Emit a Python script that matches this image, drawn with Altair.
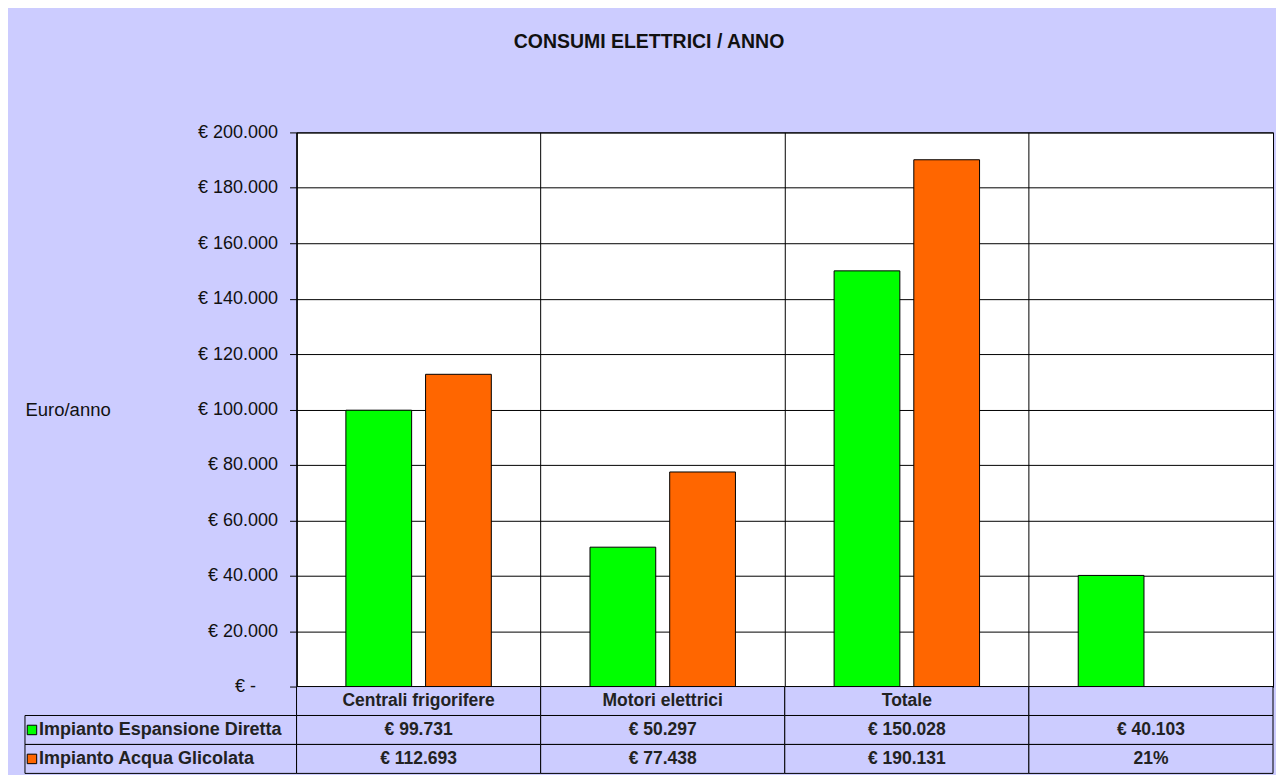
import altair as alt
import pandas as pd

# ---------------- data ----------------
categories = ["Centrali frigorifere", "Motori elettrici", "Totale", " "]
series = ["Impianto Espansione Diretta", "Impianto Acqua Glicolata"]
diretta = [99731, 50297, 150028, 40103]
glicolata = [112693, 77438, 190131, None]
table_diretta = ["€ 99.731", "€ 50.297", "€ 150.028", "€ 40.103"]
table_glicolata = ["€ 112.693", "€ 77.438", "€ 190.131", "21%"]
colors = ["#00FF00", "#FF6600"]
y_ticks = list(range(0, 200001, 20000))

FONT = "Liberation Sans"
BG = "#CCCCFF"
PLOT_W = 978
PLOT_H = 555
TABLE_H = 87
LEFT_W = 272                      # room left of the plot (axis / legend column)
COL_W = PLOT_W / len(categories)  # width of one category column in px
LEG_W = LEFT_W / COL_W            # legend column width in column units

# ---------------- bars ----------------
bar_rows = []
for c, v1, v2 in zip(categories, diretta, glicolata):
    bar_rows.append({"cat": c, "serie": series[0], "val": v1})
    if v2 is not None:
        bar_rows.append({"cat": c, "serie": series[1], "val": v2})
bars_df = pd.DataFrame(bar_rows)

label_expr = (
    "datum.value == 0 ? '€ -' : "
    "'€ ' + replace(format(datum.value, ','), /,/g, '.')"
)

bars = (
    alt.Chart(bars_df)
    .mark_bar(stroke="#000000", strokeWidth=1)
    .encode(
        x=alt.X(
            "cat:N",
            sort=categories,
            scale=alt.Scale(domain=categories, paddingInner=0, paddingOuter=0),
            axis=alt.Axis(
                labels=False, ticks=False, title=None, grid=True, bandPosition=0,
                gridColor="#000000", gridOpacity=1, gridWidth=1,
                domainColor="#000000", domainWidth=1,
            ),
        ),
        xOffset=alt.XOffset(
            "serie:N", sort=series,
            scale=alt.Scale(domain=series, paddingInner=0.175, paddingOuter=0.619),
        ),
        y=alt.Y(
            "val:Q",
            scale=alt.Scale(domain=[0, 200000], nice=False),
            axis=alt.Axis(
                values=y_ticks, labelExpr=label_expr, grid=True,
                gridColor="#000000", gridOpacity=1, gridWidth=1,
                domainColor="#000000", tickColor="#000000", tickSize=7,
                labelFont=FONT, labelFontSize=18, labelColor="#111111",
                labelPadding={"condition": {"test": "datum.value == 0", "value": 34}, "value": 12},
                title="Euro/anno", titleAngle=0, titleAlign="left", titleBaseline="middle",
                titleX=-LEFT_W, titleY=278, titleFont=FONT, titleFontSize=18.5,
                titleFontWeight="normal", titleColor="#111111",
            ),
        ),
        color=alt.Color("serie:N", scale=alt.Scale(domain=series, range=colors), legend=None),
    )
    .properties(
        width=PLOT_W, height=PLOT_H,
        view=alt.ViewBackground(fill="#FFFFFF", stroke="#000000", strokeWidth=1),
    )
)

# ---------------- data table ----------------
cells = []
for i, c in enumerate(categories):
    cells.append({"row": "0", "x0": i, "x1": i + 1, "txt": c})
    cells.append({"row": "1", "x0": i, "x1": i + 1, "txt": table_diretta[i]})
    cells.append({"row": "2", "x0": i, "x1": i + 1, "txt": table_glicolata[i]})
cells_df = pd.DataFrame(cells)
cells_df["xc"] = (cells_df["x0"] + cells_df["x1"]) / 2

leg_df = pd.DataFrame({
    "row": ["1", "2"],
    "serie": series,
    "x0": [-LEG_W, -LEG_W],
    "x1": [0, 0],
})
leg_df["xs"] = leg_df["x0"] + 7 / COL_W
leg_df["xt"] = leg_df["x0"] + 14 / COL_W

xq = alt.Scale(domain=[0, len(categories)], nice=False, zero=False)
yrow = alt.Scale(domain=["0", "1", "2"], paddingInner=0, paddingOuter=0)

cell_rect = alt.Chart(cells_df).mark_rect(fill=BG, stroke="#000000", strokeWidth=1).encode(
    x=alt.X("x0:Q", scale=xq, axis=None), x2="x1:Q",
    y=alt.Y("row:O", scale=yrow, axis=None),
)
cell_text = alt.Chart(cells_df).mark_text(
    font=FONT, fontSize=17.5, fontWeight="bold", color="#222222", baseline="middle"
).encode(
    x=alt.X("xc:Q", scale=xq, axis=None),
    y=alt.Y("row:O", scale=yrow, axis=None),
    text="txt:N",
)
leg_rect = alt.Chart(leg_df).mark_rect(fill=BG, stroke="#000000", strokeWidth=1).encode(
    x=alt.X("x0:Q", scale=xq, axis=None), x2="x1:Q",
    y=alt.Y("row:O", scale=yrow, axis=None),
)
leg_sq = alt.Chart(leg_df).mark_square(size=90, opacity=1, stroke="#000000", strokeWidth=1).encode(
    x=alt.X("xs:Q", scale=xq, axis=None),
    y=alt.Y("row:O", scale=yrow, axis=None),
    fill=alt.Fill("serie:N", scale=alt.Scale(domain=series, range=colors), legend=None),
)
leg_text = alt.Chart(leg_df).mark_text(
    font=FONT, fontSize=18, fontWeight="bold", color="#222222", align="left", baseline="middle"
).encode(
    x=alt.X("xt:Q", scale=xq, axis=None),
    y=alt.Y("row:O", scale=yrow, axis=None),
    text="serie:N",
)
table = alt.layer(cell_rect, leg_rect, cell_text, leg_sq, leg_text).properties(
    width=PLOT_W, height=TABLE_H,
    view=alt.ViewBackground(fill=BG, stroke=None),
)

chart = (
    alt.vconcat(bars, table, spacing=0, bounds="flush")
    .properties(
        title=alt.TitleParams(
            "CONSUMI ELETTRICI / ANNO", font=FONT, fontSize=19.5, fontWeight="bold",
            color="#111111", anchor="middle", offset=71,
        ),
        background=BG,
        padding={"left": 16, "top": 23, "right": 2, "bottom": 0},
    )
    .configure_view(strokeWidth=1)
)

chart.save("out.html", embed_options={"renderer": "svg", "actions": False})
